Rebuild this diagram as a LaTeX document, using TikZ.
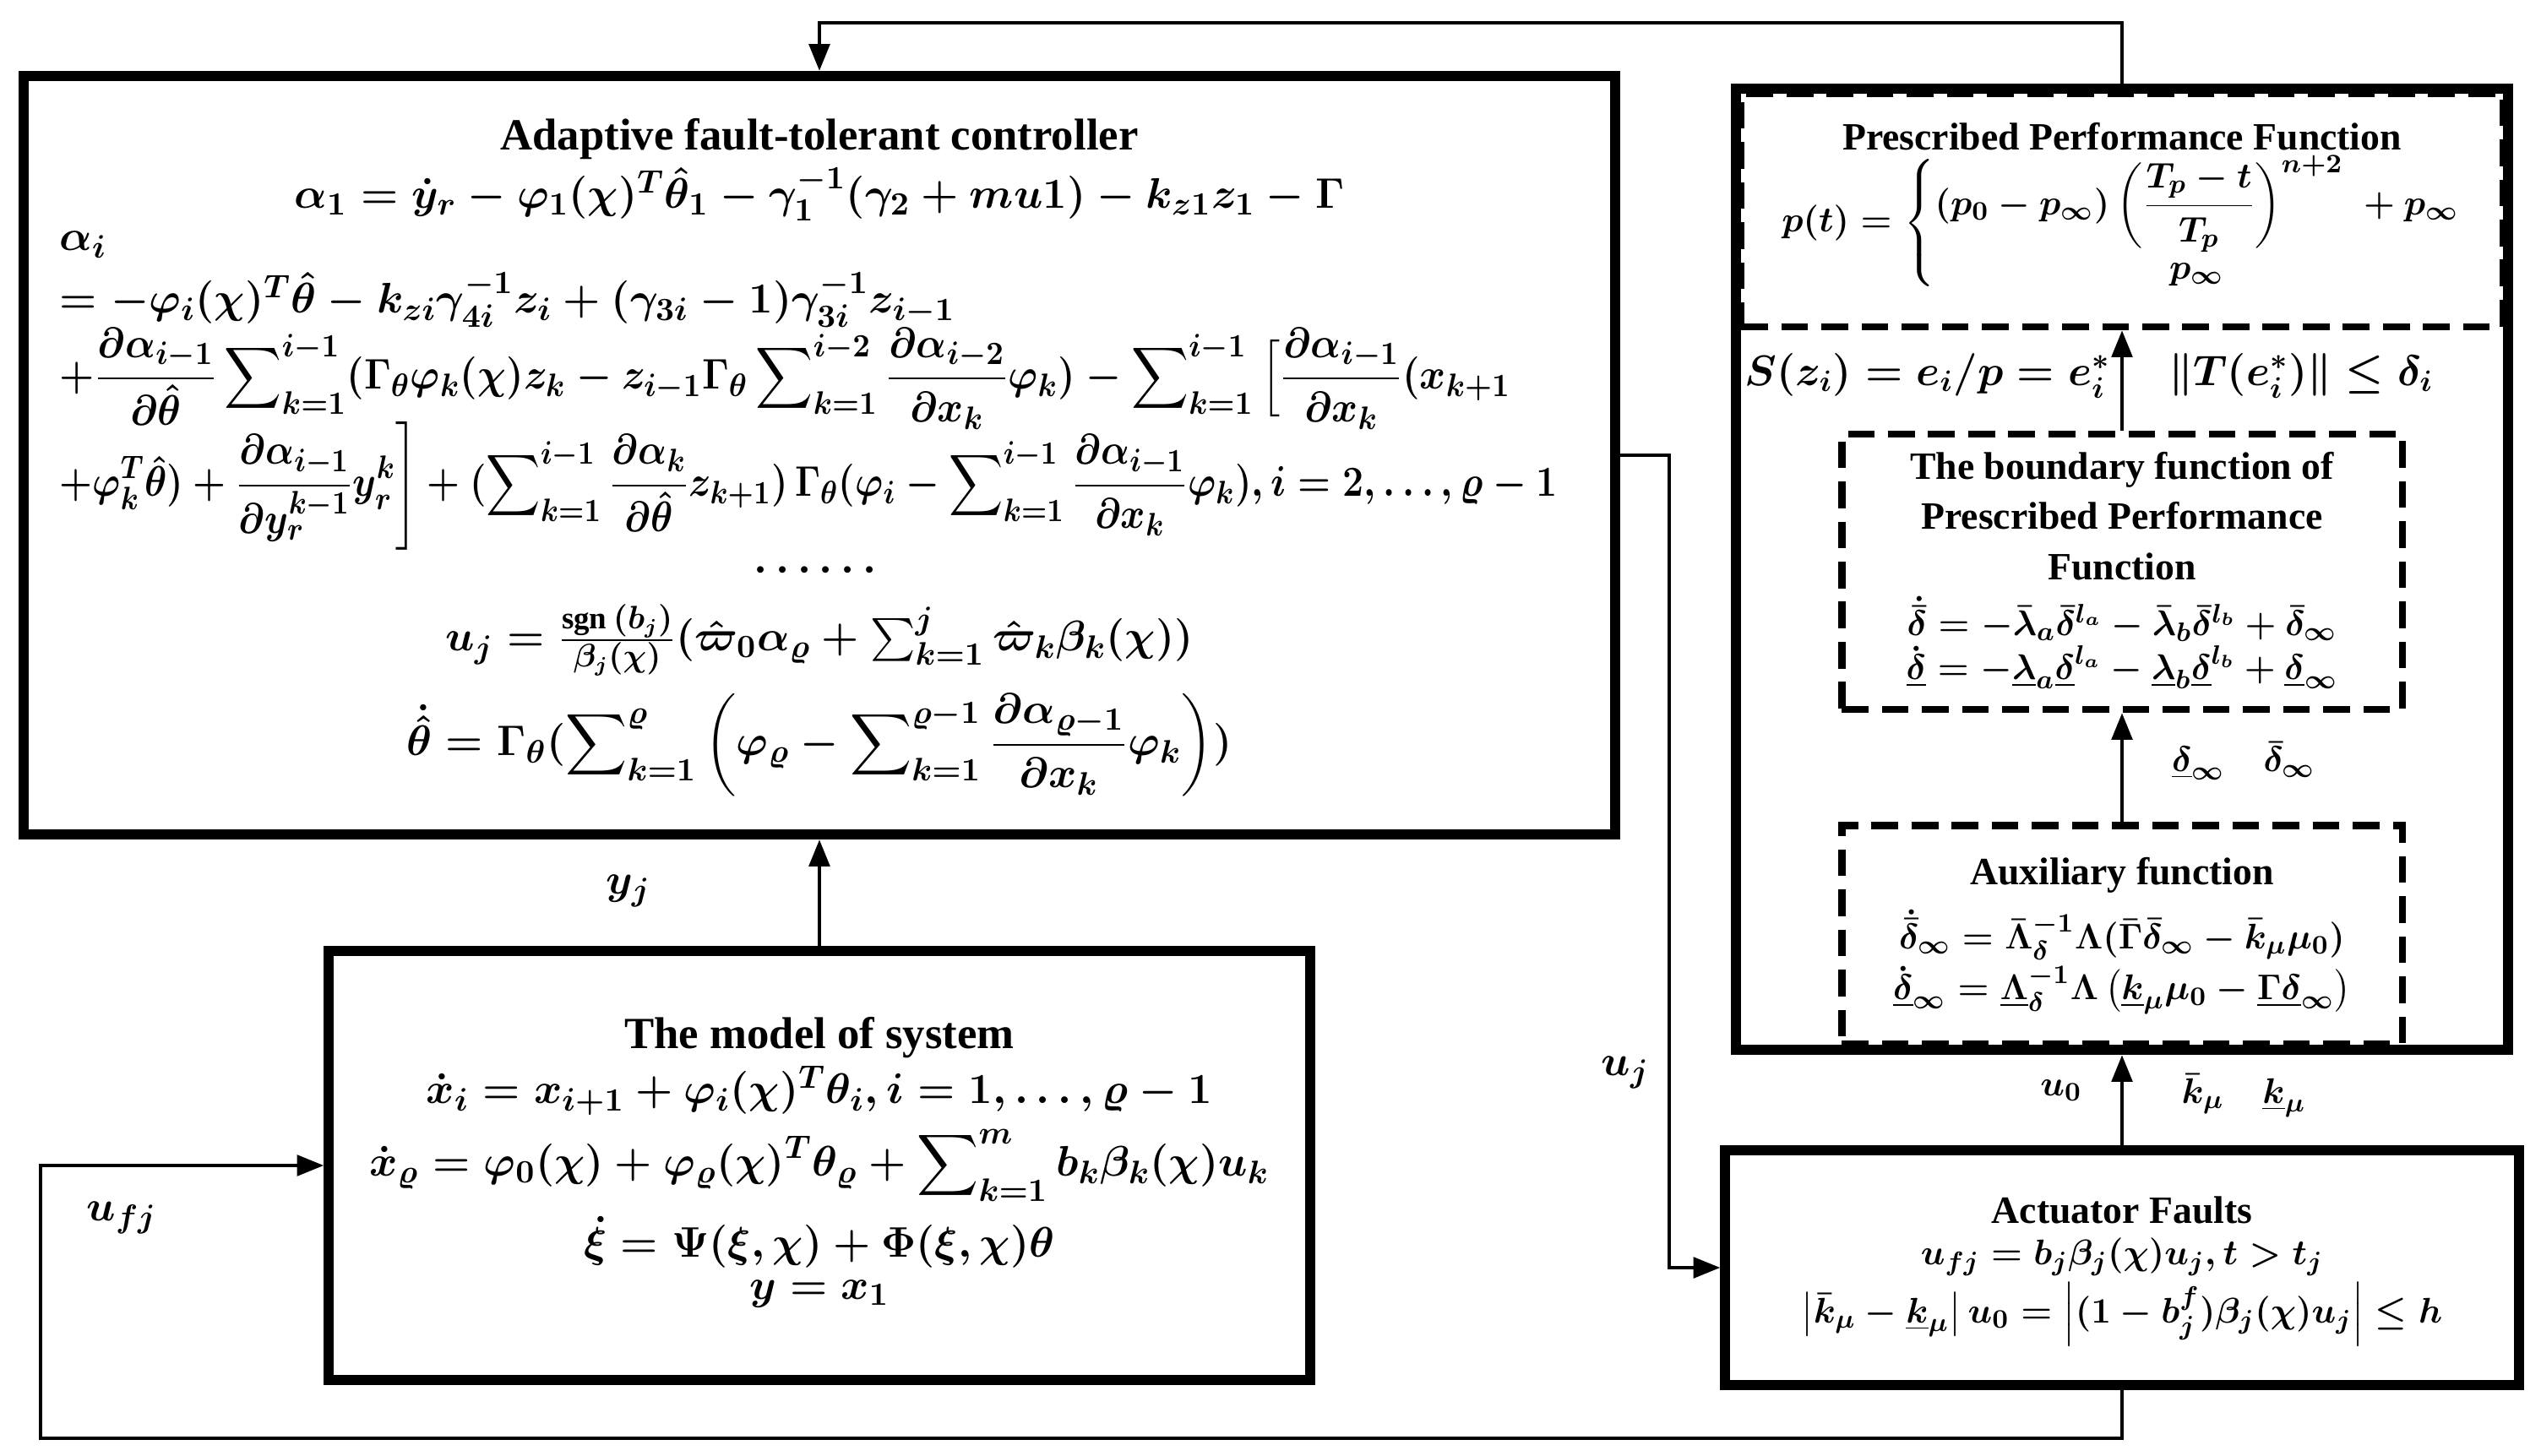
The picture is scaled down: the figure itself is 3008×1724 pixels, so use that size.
\documentclass[tikz,border=0pt]{standalone}
\usepackage{amsmath}
\usepackage{fontspec}
\setmainfont{Liberation Serif}
\usetikzlibrary{arrows.meta}
\newcommand{\fsz}[1]{\fontsize{#1}{#1}\selectfont}
\begin{document}
\begin{tikzpicture}[x=0.01cm,y=-0.01cm,
  box/.style={draw,line width=3.4pt,inner sep=0pt},
  dbox/.style={draw,line width=2.4pt,dash pattern=on 9pt off 4.5pt,inner sep=0pt},
  arr/.style={line width=1.1pt,-{Triangle[length=9pt,width=7pt]}},
  txt/.style={inner sep=0pt,font=\fsz{13}\bfseries\boldmath,align=center},
  eq/.style={inner sep=0pt,font=\fsz{15}\boldmath},
  req/.style={inner sep=0pt,font=\fsz{13}\boldmath}]
\useasboundingbox (0,0) rectangle (3008,1724);
% boxes
\node[box,minimum width=18.83cm,minimum height=8.98cm] (ctrl) at (970,539) {};
\node[box,minimum width=9.13cm,minimum height=11.38cm] (outer) at (2512,674) {};
\node[dbox,minimum width=9.01cm,minimum height=2.76cm] (ppf) at (2512,249) {};
\node[dbox,minimum width=6.63cm,minimum height=3.26cm] (bnd) at (2512,677) {};
\node[dbox,minimum width=6.63cm,minimum height=2.59cm] (aux) at (2512,1107) {};
\node[box,minimum width=9.39cm,minimum height=2.78cm] (act) at (2512,1501) {};
\node[box,minimum width=11.61cm,minimum height=5.08cm] (model) at (970,1380) {};
% connectors
\coordinate (t1) at (2512,27); \coordinate (t2) at (970,27);
\draw[arr] (outer.north) -- (t1) -- (t2) -- (ctrl.north);
\draw[arr] (bnd.north) -- (ppf.south);
\draw[arr] (aux.north) -- (bnd.south);
\draw[arr] (act.north) -- (outer.south);
\draw[arr] (model.north) -- (ctrl.south);
\coordinate (b1) at (2512,1703); \coordinate (b2) at (48,1703);
\draw[arr] (act.south) -- (b1) -- (b2) |- (model.west);
\coordinate (r1) at (1976,539);
\draw[arr] (ctrl.east) -- (r1) |- (act.west);
% labels on connectors
\node[eq] (lyj) at (744,1055) {$y_j$};
\node[eq] (luj) at (1924,1270) {$u_j$};
\node[eq] (lufj) at (144,1442) {$u_{fj}$};
\node[req] (lu0) at (2440,1291) {$u_0$};
\node[req] (lk) at (2656,1297) {$\bar{k}_\mu\quad\underline{k}_\mu$};
\node[req] (ld) at (2656,901) {$\underline{\delta}_\infty\quad\bar{\delta}_\infty$};
\node[req,font=\fsz{14}\boldmath] (ls) at (2282,445) {$S(z_i)=e_i/p=e_i^*$};
\node[req,font=\fsz{14}\boldmath] (lt) at (2724,445) {$\|T(e_i^*)\|\le\delta_i$};
% controller
\node[txt,font=\fsz{15}\bfseries] (c0) at (970,165) {Adaptive fault-tolerant controller};
\node[eq] (c1) at (970,230) {$\alpha_1=\dot{y}_r-\varphi_1(\chi)^T\hat{\theta}_1-\gamma_1^{-1}(\gamma_2+mu1)-k_{z1}z_1-\Gamma$};
\node[eq,anchor=west] (c2) at (70,290) {$\alpha_i$};
\node[eq,anchor=west] (c3) at (70,355) {$=-\varphi_i(\chi)^T\hat{\theta}-k_{zi}\gamma_{4i}^{-1}z_i+(\gamma_{3i}-1)\gamma_{3i}^{-1}z_{i-1}$};
\node[eq,anchor=west] (c4) at (70,448) {\scalebox{0.93}[1]{$\displaystyle +\frac{\partial\alpha_{i-1}}{\partial\hat{\theta}}\sum\nolimits_{k=1}^{i-1}(\Gamma_\theta\varphi_k(\chi)z_k-z_{i-1}\Gamma_\theta\sum\nolimits_{k=1}^{i-2}\frac{\partial\alpha_{i-2}}{\partial x_k}\varphi_k)-\sum\nolimits_{k=1}^{i-1}\Big[\frac{\partial\alpha_{i-1}}{\partial x_k}(x_{k+1}$}};
\node[eq,anchor=west] (c5) at (70,575) {\scalebox{0.88}[1]{$\displaystyle +\varphi_k^T\hat{\theta})+\frac{\partial\alpha_{i-1}}{\partial y_r^{k-1}}y_r^k\Bigg]+(\sum\nolimits_{k=1}^{i-1}\frac{\partial\alpha_k}{\partial\hat{\theta}}z_{k+1})\,\Gamma_\theta(\varphi_i-\sum\nolimits_{k=1}^{i-1}\frac{\partial\alpha_{i-1}}{\partial x_k}\varphi_k),i=2,\ldots,\varrho-1$}};
\node[eq] (c6) at (970,675) {$\boldsymbol{\cdots\cdots}$};
\node[eq] (c7) at (970,758) {$u_j=\frac{\mathrm{sgn}\,(b_j)}{\beta_j(\chi)}(\hat{\varpi}_0\alpha_\varrho+\sum_{k=1}^{j}\hat{\varpi}_k\beta_k(\chi))$};
\node[eq] (c8) at (970,882) {$\displaystyle\dot{\hat{\theta}}=\Gamma_\theta(\sum\nolimits_{k=1}^{\varrho}\left(\varphi_\varrho-\sum\nolimits_{k=1}^{\varrho-1}\frac{\partial\alpha_{\varrho-1}}{\partial x_k}\varphi_k\right))$};
% model
\node[txt,font=\fsz{15}\bfseries] (m0) at (970,1229) {The model of system};
\node[eq] (m1) at (970,1291) {$\dot{x}_i=x_{i+1}+\varphi_i(\chi)^T\theta_i,i=1,\ldots,\varrho-1$};
\node[eq] (m2) at (970,1380) {$\displaystyle\dot{x}_\varrho=\varphi_0(\chi)+\varphi_\varrho(\chi)^T\theta_\varrho+\sum\nolimits_{k=1}^{m}b_k\beta_k(\chi)u_k$};
\node[eq] (m3) at (970,1471) {$\dot{\xi}=\Psi(\xi,\chi)+\Phi(\xi,\chi)\theta$};
\node[eq] (m4) at (970,1532) {$y=x_1$};
% PPF
\node[txt] (p0) at (2512,162) {Prescribed Performance Function};
\node[req] (p1) at (2512,264) {$p(t)=\left\{\begin{array}{@{}c@{}}(p_0-p_\infty)\left(\dfrac{T_p-t}{T_p}\right)^{n+2}\;+p_\infty\\[1pt] p_\infty\end{array}\right.$};
% boundary
\node[txt] (b0) at (2512,611) {The boundary function of\\[4pt]Prescribed Performance\\[4pt]Function};
\node[req] (b1t) at (2512,733) {$\dot{\bar{\delta}}=-\bar{\lambda}_a\bar{\delta}^{l_a}-\bar{\lambda}_b\bar{\delta}^{l_b}+\bar{\delta}_\infty$};
\node[req] (b2t) at (2512,790) {$\dot{\underline{\delta}}=-\underline{\lambda}_a\underline{\delta}^{l_a}-\underline{\lambda}_b\underline{\delta}^{l_b}+\underline{\delta}_\infty$};
% aux
\node[txt] (a0) at (2512,1036) {Auxiliary function};
\node[req] (a1) at (2512,1107) {$\dot{\bar{\delta}}_\infty=\bar{\Lambda}_\delta^{-1}\Lambda(\bar{\Gamma}\bar{\delta}_\infty-\bar{k}_\mu\mu_0)$};
\node[req] (a2) at (2512,1172) {$\dot{\underline{\delta}}_\infty=\underline{\Lambda}_\delta^{-1}\Lambda\left(\underline{k}_\mu\mu_0-\underline{\Gamma}\underline{\delta}_\infty\right)$};
% actuator
\node[txt] (f0) at (2512,1433) {Actuator Faults};
\node[req] (f1) at (2512,1488) {$u_{fj}=b_j\beta_j(\chi)u_j,t>t_j$};
\node[req] (f2) at (2512,1556) {$\left|\bar{k}_\mu-\underline{k}_\mu\right|u_0=\left|(1-b_j^f)\beta_j(\chi)u_j\right|\le h$};
\end{tikzpicture}
\end{document}
